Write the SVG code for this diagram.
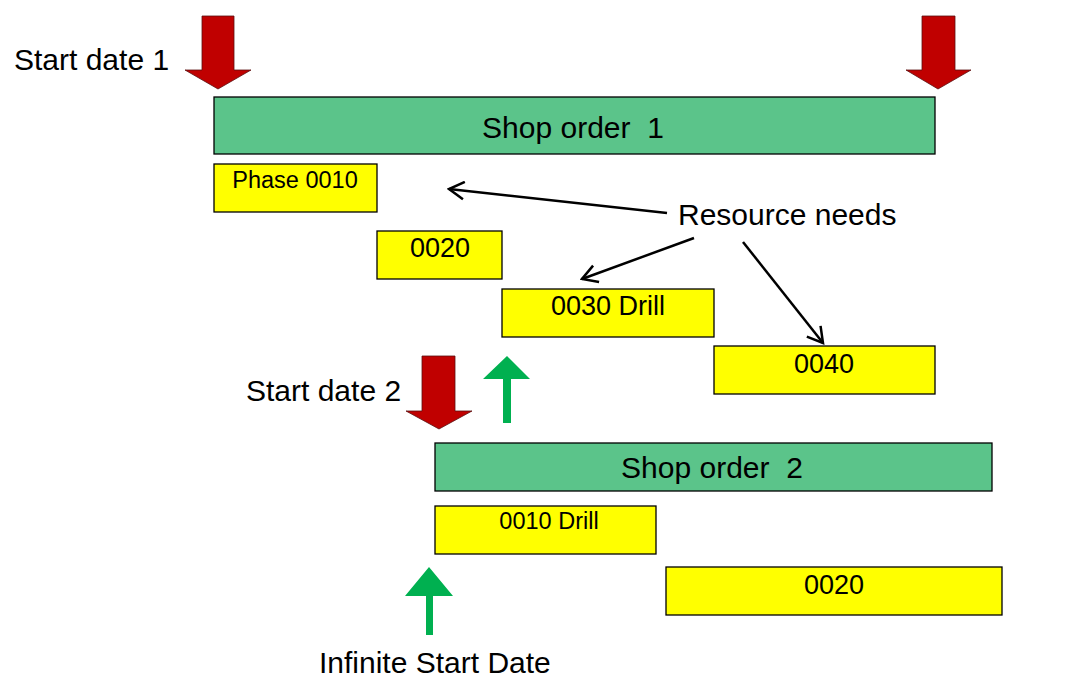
<svg xmlns="http://www.w3.org/2000/svg" width="1081" height="691" viewBox="0 0 1081 691">
<style>
text{font-family:"Liberation Sans",Arial,sans-serif;fill:#000;white-space:pre}
.bar{fill:#5BC48A;stroke:#000;stroke-width:1.3}
.ph{fill:#FFFF00;stroke:#000;stroke-width:1.3}
.red{fill:#C00000;stroke:#5a1010;stroke-width:0.8}
.grn{fill:#00B050}
.con{stroke:#000;stroke-width:2.5;fill:none;marker-end:url(#ah)}
.c{text-anchor:middle}
.big{font-size:30px}
.mid{font-size:27px}
.sm{font-size:23.5px}
</style>
<defs>
<marker id="ah" markerWidth="8" markerHeight="8" refX="7" refY="4" orient="auto" markerUnits="strokeWidth" viewBox="0 0 8 8">
<polyline points="1,0.5 7,4 1,7.5" fill="none" stroke="#000" stroke-width="1"/>
</marker>
</defs>
<g id="labels">
<text class="big" x="14" y="70">Start date 1</text>
<text class="big" x="246" y="401">Start date 2</text>
<text class="big" x="678" y="225">Resource needs</text>
<text class="big" x="319" y="673">Infinite Start Date</text>
</g>
<g id="red-arrows">
<polygon class="red" points="202,16 234,16 234,70 251,70 218,89 185,70 202,70"/>
<polygon class="red" points="922,16 955,16 955,70 971,70 938,89 906,70 922,70"/>
<polygon class="red" points="422,356 455,356 455,411 472,411 439,429 406,411 422,411"/>
</g>
<g id="green-arrows">
<polygon class="grn" points="507,356 530,379 511,379 511,423 503,423 503,379 483,379"/>
<polygon class="grn" points="429,567 453,596 433,596 433,635 426,635 426,596 405,596"/>
</g>
<g id="shop-order-1">
<rect class="bar" x="214" y="97" width="721" height="57"/>
<text class="c big" x="573" y="138">Shop order  1</text>
</g>
<g id="phase-0010">
<rect class="ph" x="214" y="164" width="163" height="48"/>
<text class="c sm" x="295" y="188">Phase 0010</text>
</g>
<g id="op-0020">
<rect class="ph" x="377" y="231" width="125" height="48"/>
<text class="c mid" x="440" y="257">0020</text>
</g>
<g id="op-0030">
<rect class="ph" x="502" y="289" width="212" height="48"/>
<text class="c mid" x="608" y="315">0030 Drill</text>
</g>
<g id="op-0040">
<rect class="ph" x="714" y="346" width="221" height="48"/>
<text class="c mid" x="824" y="373">0040</text>
</g>
<g id="shop-order-2">
<rect class="bar" x="435" y="443" width="557" height="48"/>
<text class="c big" x="712" y="478">Shop order  2</text>
</g>
<g id="op2-0010">
<rect class="ph" x="435" y="506" width="221" height="48"/>
<text class="c sm" x="549" y="529">0010 Drill</text>
</g>
<g id="op2-0020">
<rect class="ph" x="666" y="567" width="336" height="48"/>
<text class="c mid" x="834" y="594">0020</text>
</g>
<g id="connectors">
<line class="con" x1="667" y1="213" x2="449" y2="189"/>
<line class="con" x1="694" y1="238" x2="582" y2="279"/>
<line class="con" x1="743" y1="242" x2="823" y2="343"/>
</g>
</svg>
